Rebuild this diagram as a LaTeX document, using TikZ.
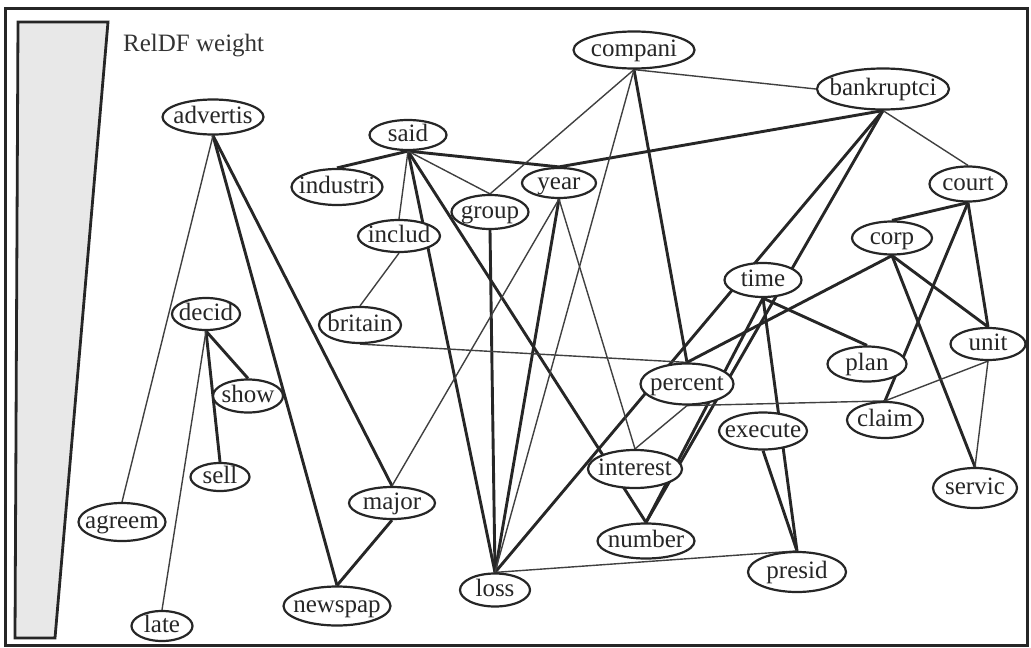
\documentclass[tikz,border=0pt]{standalone}
\usepackage{fontspec}
\setmainfont{Liberation Serif}
\usetikzlibrary{shapes.geometric,backgrounds}
\begin{document}
\begin{tikzpicture}[x=1pt,y=-1pt,
  nd/.style={ellipse,draw=black!85,line width=2.2pt,fill=white,inner xsep=-30pt,inner ysep=-8pt,
    text height=16pt,text depth=4pt,text=black!85,font=\fontsize{25}{30}\selectfont},
  sz/.style 2 args={minimum width=#1pt,minimum height=#2pt},
  thk/.style={line width=2.9pt,draw=black!85},
  thn/.style={line width=1.4pt,draw=black!75}]
\useasboundingbox (0,0) rectangle (1031,648);
% nodes
\node[nd,sz={101}{35}] (advertis) at (213,117) {advertis};
\node[nd,sz={77}{30}] (said) at (408,135) {said};
\node[nd,sz={91}{36}] (industri) at (337,187) {industri};
\node[nd,sz={74}{30}] (year) at (559,183) {year};
\node[nd,sz={77}{34}] (group) at (490,212) {group};
\node[nd,sz={82}{32}] (includ) at (399,236) {includ};
\node[nd,sz={82}{36}] (britain) at (360,325) {britain};
\node[nd,sz={121}{37}] (compani) at (634,50) {compani};
\node[nd,sz={132}{41}] (bankruptci) at (883,89) {bankruptci};
\node[nd,sz={77}{35}] (court) at (968,184) {court};
\node[nd,sz={80}{33}] (corp) at (892,238) {corp};
\node[nd,sz={77}{34}] (time) at (763,280) {time};
\node[nd,sz={75}{32}] (unit) at (988,344) {unit};
\node[nd,sz={79}{35}] (plan) at (867,364) {plan};
\node[nd,sz={93}{41}] (percent) at (687,384) {percent};
\node[nd,sz={76}{36}] (claim) at (885,420) {claim};
\node[nd,sz={88}{37}] (execute) at (763,431) {execute};
\node[nd,sz={94}{38}] (interest) at (635,469) {interest};
\node[nd,sz={84}{40}] (servic) at (975,488) {servic};
\node[nd,sz={97}{35}] (number) at (646,541) {number};
\node[nd,sz={98}{40}] (presid) at (797,572) {presid};
\node[nd,sz={70}{33}] (loss) at (495,590) {loss};
\node[nd,sz={86}{32}] (major) at (392,503) {major};
\node[nd,sz={107}{39}] (newspap) at (337,606) {newspap};
\node[nd,sz={68}{32}] (decid) at (206,314) {decid};
\node[nd,sz={70}{33}] (show) at (248,396) {show};
\node[nd,sz={59}{28}] (sell) at (220,477) {sell};
\node[nd,sz={87}{38}] (agreem) at (122,522) {agreem};
\node[nd,sz={61}{30}] (late) at (162,626) {late};
\node[anchor=base west,inner sep=0pt,font=\fontsize{25}{30}\selectfont,text=black!80] (title) at (123,51) {RelDF weight};
\begin{pgfonlayer}{background}
  \draw[line width=3pt,draw=black!85] (5,8) rectangle (1027,645);
  \draw[line width=2.8pt,draw=black!85,fill=black!9] (18,22) -- (108,22) -- (55,638) -- (15,638) -- cycle;
  % thick edges
  \draw[thk] (advertis.south) -- (newspap.north);
  \draw[thk] (advertis.south) -- (major.north);
  \draw[thk] (decid.south) -- (show.north);
  \draw[thk] (decid.south) -- (sell.north);
  \draw[thk] (said.south) -- (industri.north);
  \draw[thk] (said.south) -- (year.north);
  \draw[thk] (said.south) -- (loss.north);
  \draw[thk] (said.south) -- (number.north);
  \draw[thk] (compani.south) -- (percent.north);
  \draw[thk] (bankruptci.south) -- (year.north);
  \draw[thk] (bankruptci.south) -- (loss.north);
  \draw[thk] (bankruptci.south) -- (number.north);
  \draw[thk] (year.south) -- (loss.north);
  \draw[thk] (group.south) -- (loss.north);
  \draw[thk] (court.south) -- (corp.north);
  \draw[thk] (court.south) -- (claim.north);
  \draw[thk] (court.south) -- (unit.north);
  \draw[thk] (corp.south) -- (percent.north);
  \draw[thk] (corp.south) -- (unit.north);
  \draw[thk] (corp.south) -- (servic.north);
  \draw[thk] (time.south) -- (number.north);
  \draw[thk] (time.south) -- (plan.north);
  \draw[thk] (time.south) -- (presid.north);
  \draw[thk] (execute.south) -- (presid.north);
  \draw[thk] (major.south) -- (newspap.north);
  % thin edges
  \draw[thn] (advertis.south) -- (agreem.north);
  \draw[thn] (decid.south) -- (late.north);
  \draw[thn] (said.south) -- (includ.north);
  \draw[thn] (said.south) -- (group.north);
  \draw[thn] (includ.south) -- (britain.north);
  \draw[thn] (britain.south) -- (percent.north);
  \draw[thn] (compani.south) -- (bankruptci.west);
  \draw[thn] (compani.south) -- (group.north);
  \draw[thn] (compani.south) -- (loss.north);
  \draw[thn] (bankruptci.south) -- (court.north);
  \draw[thn] (year.south) -- (major.north);
  \draw[thn] (year.south) -- (interest.north);
  \draw[thn] (percent.south) -- (interest.north);
  \draw[thn] (percent.south) -- (claim.north);
  \draw[thn] (unit.south) -- (claim.north);
  \draw[thn] (unit.south) -- (servic.north);
  \draw[thn] (loss.north) -- (presid.north);
\end{pgfonlayer}
\end{tikzpicture}
\end{document}
